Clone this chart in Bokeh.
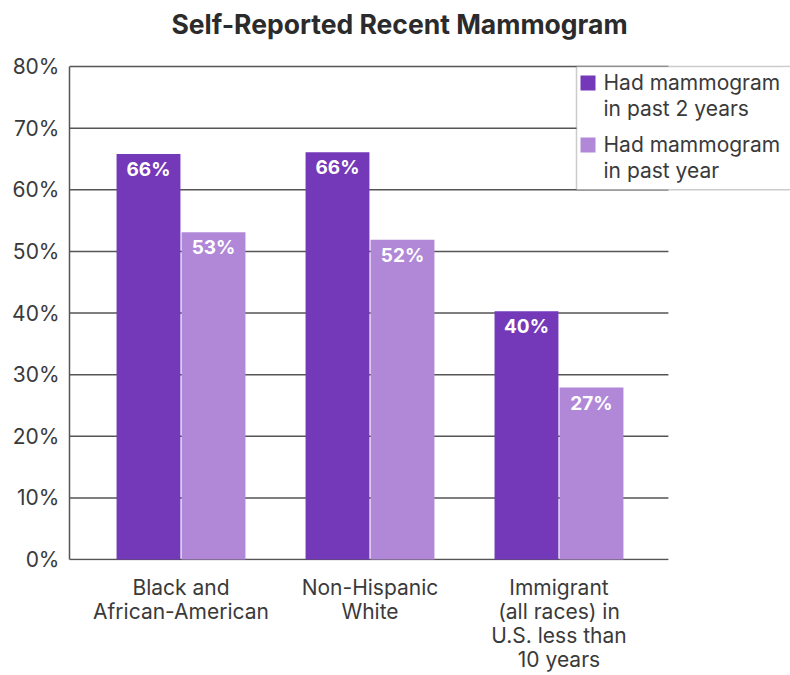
from bokeh.plotting import figure
from bokeh.models import (Range1d, FixedTicker, ColumnDataSource, LabelSet, Label,
                          BoxAnnotation)
from bokeh.transform import dodge
from bokeh.embed import file_html
from bokeh.resources import INLINE
from bokeh.core.properties import value

# ---- data ----
groups = ["Black and\nAfrican-American",
          "Non-Hispanic\nWhite",
          "Immigrant\n(all races) in\nU.S. less than\n10 years"]
series_names = ["Had mammogram\nin past 2 years", "Had mammogram\nin past year"]
past_2_years = [65.8, 66.1, 40.3]
past_year = [53.1, 51.9, 27.9]
labels_2_years = ["66%", "66%", "40%"]
labels_past_year = ["53%", "52%", "27%"]
y_ticks = [0, 10, 20, 30, 40, 50, 60, 70, 80]
y_tick_labels = ["0%", "10%", "20%", "30%", "40%", "50%", "60%", "70%", "80%"]
title_text = "Self-Reported Recent Mammogram"

# ---- style ----
DARK = "#7439B9"
LIGHT = "#B088D7"
TEXT = "#3a3a3a"
GRID = "#555555"
FONT = "Inter"
series_colors = [DARK, LIGHT]

X_START, X_END = -0.590, 3.225      # frame spans out to the right edge (legend area)
GRID_END = 2.579                    # gridlines stop short of the right edge
Y_START, Y_END = -0.162, 90.71      # frame spans up to the top (title area)
FRAME_H = 560
PX = FRAME_H / (Y_END - Y_START)    # screen px per y unit


def sy(v):
    """screen y (from frame bottom) of a y value, for the legend box layout"""
    return (v - Y_START) * PX


idx = list(range(len(groups)))
src = ColumnDataSource(dict(x=idx, a=past_2_years, b=past_year,
                            la=labels_2_years, lb=labels_past_year))

p = figure(frame_width=721, frame_height=FRAME_H,
           x_range=Range1d(X_START, X_END), y_range=Range1d(Y_START, Y_END),
           min_border_left=69, min_border_right=0, min_border_top=0,
           min_border_bottom=115,
           output_backend="svg", toolbar_location=None)
p.outline_line_color = None
p.background_fill_color = "white"
p.border_fill_color = "white"
p.xgrid.grid_line_color = None
p.ygrid.grid_line_color = None

# horizontal gridlines (stop before the right edge)
p.segment(x0=[X_START] * len(y_ticks), x1=[GRID_END] * len(y_ticks),
          y0=y_ticks, y1=y_ticks, line_color=GRID, line_width=1.5,
          level="underlay")

off = 0.172
bw = 0.338
r1 = p.vbar(x=dodge("x", -off), top="a", width=bw, source=src,
            fill_color=DARK, line_color=None)
r2 = p.vbar(x=dodge("x", off), top="b", width=bw, source=src,
            fill_color=LIGHT, line_color=None)

for col, lab, o in (("a", "la", -off), ("b", "lb", off)):
    p.add_layout(LabelSet(x=dodge("x", o), y=col, text=lab, source=src,
                          y_offset=-4, text_align="center", text_baseline="top",
                          text_color="white", text_font=value(FONT),
                          text_font_size="19px", text_font_style="bold"))

# axes
p.yaxis.bounds = (0, 80)
p.yaxis.ticker = FixedTicker(ticks=y_ticks)
p.yaxis.major_label_overrides = {t: l for t, l in zip(y_ticks, y_tick_labels)}
p.yaxis.axis_line_color = GRID
p.yaxis.axis_line_width = 1.5
p.yaxis.major_tick_line_color = None
p.yaxis.major_tick_out = 0
p.yaxis.major_tick_in = 0
p.yaxis.minor_tick_line_color = None
p.yaxis.major_label_standoff = 10
p.yaxis.major_label_text_font = FONT
p.yaxis.major_label_text_font_size = "21px"
p.yaxis.major_label_text_color = TEXT

p.xaxis.ticker = FixedTicker(ticks=idx)
p.xaxis.major_label_overrides = {i: g for i, g in zip(idx, groups)}
p.xaxis.axis_line_color = None
p.xaxis.major_tick_line_color = None
p.xaxis.major_tick_out = 0
p.xaxis.major_tick_in = 0
p.xaxis.minor_tick_line_color = None
p.xaxis.major_label_standoff = 14
p.xaxis.major_label_text_font = FONT
p.xaxis.major_label_text_font_size = "21px"
p.xaxis.major_label_text_line_height = 0.97
p.xaxis.major_label_text_color = TEXT

# legend box (screen units, relative to the frame's bottom-left corner)
LEG_LEFT = 507
p.add_layout(BoxAnnotation(left=LEG_LEFT, right=760, bottom=sy(60), top=sy(80),
                           left_units="screen", right_units="screen",
                           bottom_units="screen", top_units="screen",
                           fill_color="white", fill_alpha=1,
                           line_color=GRID, line_width=1.5))
# the legend box runs off the right edge: hide its right border
p.add_layout(BoxAnnotation(left=712, right=760, bottom=sy(60) + 1, top=sy(80) - 1,
                           left_units="screen", right_units="screen",
                           bottom_units="screen", top_units="screen",
                           fill_color="white", fill_alpha=1, line_color=None))
ITEM_TOP = 485
ITEM_STEP = 62
LINE_STEP = 26
for k, (name, color) in enumerate(zip(series_names, series_colors)):
    top = ITEM_TOP - k * ITEM_STEP
    p.add_layout(BoxAnnotation(left=LEG_LEFT + 4, right=LEG_LEFT + 19,
                               top=top, bottom=top - 15,
                               left_units="screen", right_units="screen",
                               bottom_units="screen", top_units="screen",
                               fill_color=color, fill_alpha=1, line_color=None))
    for j, line in enumerate(name.split("\n")):
        p.add_layout(Label(x=LEG_LEFT + 27, y=top - 7 - j * LINE_STEP,
                           x_units="screen", y_units="screen", text=line,
                           text_align="left", text_baseline="alphabetic",
                           text_font=FONT, text_font_size="21px",
                           text_color=TEXT))

p.add_layout(Label(x=330, y=537, x_units="screen", y_units="screen",
                   text=title_text, text_align="center", text_baseline="alphabetic",
                   text_font=FONT, text_font_size="26.5px", text_font_style="bold",
                   text_color="#2b2b2b"))

open("out.html", "w").write(file_html(p, INLINE))
